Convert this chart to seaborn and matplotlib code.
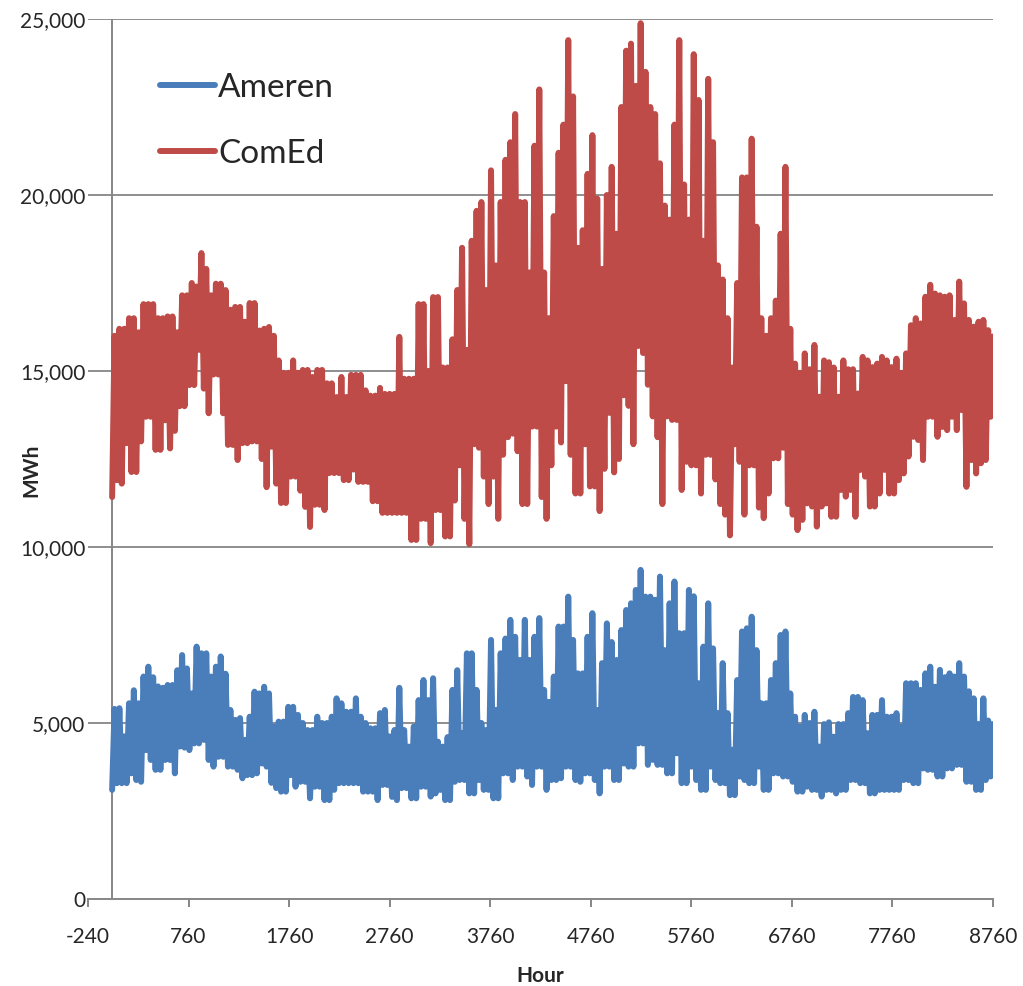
import matplotlib
matplotlib.use("Agg")
import matplotlib.pyplot as plt
import matplotlib.ticker as mticker
import numpy as np
import pandas as pd
import seaborn as sns

# envelope: one trough and one peak per 48 hours
comed_lo = [11420, 11900, 11800, 12950, 12130, 12130, 13000, 13700, 13700, 12760,
            12760, 13600, 12800, 13300, 14000, 14000, 14600, 14600, 15600, 14500,
            13800, 14900, 14900, 13800, 12900, 12900, 12470, 12950, 12950, 13000,
            13000, 12500, 11700, 12850, 11800, 11250, 11250, 12000, 12000, 11600,
            11140, 10570, 11200, 11200, 11050, 12100, 12100, 12100, 11900, 11900,
            12200, 11850, 11850, 11850, 11300, 11300, 10970, 10970, 10970, 10970,
            10970, 10970, 10200, 10200, 10800, 10800, 10110, 11050, 11050, 10300,
            10300, 11320, 12320, 10800, 10080, 12920, 12820, 12000, 11220, 12000,
            10800, 12620, 13120, 13220, 12720, 11220, 11220, 13420, 13420, 11420,
            10800, 12320, 13420, 12970, 14710, 12620, 11520, 11520, 12920, 11720,
            11720, 11020, 12220, 13810, 12120, 12500, 14310, 14010, 12920, 15710,
            15510, 14610, 13710, 13120, 11220, 13710, 13610, 13610, 11620, 12420,
            12320, 12320, 11520, 12620, 12620, 11920, 11220, 10920, 10330, 12920,
            12420, 10920, 12320, 12320, 11120, 10820, 11520, 12520, 12520, 12820,
            11220, 10920, 10480, 10770, 11240, 11150, 10580, 11150, 11240, 10860,
            10860, 11620, 11430, 11620, 10860, 12190, 12000, 11150, 11150, 11520,
            12190, 11520, 11520, 11900, 12090, 12570, 13130, 13040, 12470, 13700,
            13700, 13130, 13410, 13320, 13700, 13320, 13890, 11710, 12470, 12090,
            12380, 12470, 13700]
comed_hi = [16000, 16200, 16200, 16500, 16500, 16100, 16900, 16900, 16900, 16500,
            16500, 16550, 16550, 16100, 17150, 17150, 17500, 17400, 18350, 17900,
            17150, 17480, 17480, 17300, 16740, 16820, 16820, 16400, 16930, 16930,
            16150, 16200, 16250, 16000, 15300, 14950, 14950, 15300, 14950, 15030,
            15030, 14830, 15030, 15030, 14650, 14650, 14260, 14830, 14260, 14890,
            14890, 14890, 14450, 14300, 14300, 14520, 14350, 14350, 14350, 15970,
            14780, 14780, 14780, 16900, 16900, 15000, 17100, 17100, 15100, 15100,
            15900, 17300, 18500, 15600, 18700, 19550, 19800, 17300, 20700, 18000,
            19800, 21000, 21500, 22300, 19800, 19800, 17800, 21400, 23000, 17800,
            16500, 19400, 21200, 22000, 24400, 22800, 18500, 19000, 20600, 21700,
            19900, 17900, 20000, 20800, 18900, 22500, 24100, 24300, 23100, 24880,
            23500, 22500, 22300, 20900, 19700, 19300, 22000, 24400, 20300, 19300,
            24000, 22700, 18700, 23300, 21500, 18000, 17600, 16500, 15100, 17500,
            20500, 20500, 21600, 19100, 16500, 16000, 16500, 17000, 18900, 20800,
            16200, 15210, 14950, 15500, 15050, 15740, 14270, 15300, 15250, 15100,
            14270, 15300, 15050, 15050, 14360, 15400, 15300, 15110, 15210, 15400,
            15300, 15110, 15350, 14950, 15500, 16300, 16500, 16350, 17110, 17450,
            17200, 17150, 17110, 17150, 16450, 17540, 16920, 16450, 16260, 16400,
            16450, 16160, 15980]
ameren_lo = [3100, 3290, 3290, 3290, 3570, 3380, 3330, 4230, 3950, 3670,
             3670, 3950, 3950, 3570, 4330, 4300, 4230, 4420, 4420, 4520,
             3950, 3760, 4040, 4040, 3760, 3760, 3670, 3430, 3520, 3520,
             3570, 3850, 3760, 3300, 3150, 3050, 3050, 3520, 3190, 3330,
             3330, 2860, 3190, 3190, 2810, 2810, 3100, 3290, 3290, 3290,
             3290, 3290, 3050, 3050, 3050, 2810, 3240, 3240, 2900, 2810,
             3150, 3150, 2860, 2860, 3190, 3190, 2910, 3000, 3100, 2810,
             2810, 3330, 3380, 3380, 3000, 3000, 3380, 3100, 3100, 2860,
             2860, 3570, 3570, 3380, 3760, 3760, 3480, 3240, 3760, 3760,
             3100, 3380, 3380, 3430, 3760, 3760, 3380, 3330, 3570, 3570,
             3380, 3000, 3760, 3760, 3380, 3380, 3850, 3760, 3760, 4420,
             4420, 3810, 3950, 3810, 3810, 3570, 3570, 4140, 3290, 3290,
             3760, 3380, 3100, 3100, 3760, 3380, 3290, 3290, 2950, 2950,
             3480, 3380, 3290, 3290, 3760, 3100, 3100, 3570, 3570, 3480,
             3480, 3330, 3050, 3050, 3190, 3100, 3100, 2910, 3100, 3100,
             3000, 3100, 3100, 3380, 3380, 3290, 3290, 3000, 3000, 3100,
             3100, 3100, 3100, 3100, 3380, 3380, 3290, 3290, 3710, 3670,
             3670, 3480, 3480, 3710, 3710, 3810, 3810, 3330, 3330, 3100,
             3100, 3380, 3480]
ameren_hi = [5400, 5420, 4620, 5560, 5930, 5560, 6320, 6600, 6300, 6040,
             6000, 6080, 6080, 6500, 6930, 6550, 5840, 7170, 6980, 6980,
             6320, 6600, 6890, 6400, 5370, 5090, 5140, 4520, 5180, 5890,
             5840, 6030, 5840, 4900, 5040, 5040, 5460, 5460, 5230, 5000,
             4800, 4800, 5180, 5000, 5000, 5180, 5700, 5560, 5320, 5320,
             5700, 5180, 5000, 4850, 4850, 5280, 5370, 4620, 4800, 6000,
             4800, 4330, 4900, 5650, 6220, 5650, 6270, 4470, 4330, 4600,
             5940, 6500, 4710, 6980, 6980, 5940, 5000, 4800, 7360, 5370,
             6980, 7400, 7930, 7450, 6790, 7930, 6790, 7450, 7980, 5940,
             5600, 6320, 7740, 7740, 8590, 7360, 6410, 6410, 7450, 8120,
             5370, 6700, 7830, 7300, 6790, 7640, 8210, 8400, 8780, 9350,
             8590, 8590, 8500, 9160, 7070, 8400, 9020, 7550, 7550, 8780,
             8600, 6130, 7170, 8400, 7120, 5280, 6700, 5280, 4240, 6220,
             7600, 7690, 8020, 7070, 5560, 5560, 6220, 6700, 7500, 7600,
             5840, 5180, 4900, 5230, 5000, 5320, 4330, 4970, 5020, 4610,
             4970, 4970, 5280, 5740, 5740, 5650, 4710, 5230, 5230, 5650,
             5180, 5180, 5280, 4900, 6130, 6130, 6130, 5940, 6410, 6600,
             6030, 6510, 6300, 6410, 6320, 6700, 6320, 5900, 5700, 4970,
             5700, 5070, 4970]

hours = np.arange(0, 8761, 24)
xticks = np.arange(-240, 8761, 1000)
yticks = [0, 5000, 10000, 15000, 20000, 25000]
colors = {"Ameren": "#4A7EBB", "ComEd": "#BE4B48"}


def zigzag(lo, hi):
    vals = np.empty(len(lo) + len(hi))
    vals[0::2] = lo
    vals[1::2] = hi
    return vals


df = pd.concat([
    pd.DataFrame({"Hour": hours, "MWh": zigzag(ameren_lo, ameren_hi), "Utility": "Ameren"}),
    pd.DataFrame({"Hour": hours, "MWh": zigzag(comed_lo, comed_hi), "Utility": "ComEd"}),
])

sns.set_style("white")
plt.rcParams["font.family"] = ["Lato", "DejaVu Sans"]
plt.rcParams["axes.unicode_minus"] = False

fig = plt.figure(figsize=(10.23, 9.86), dpi=100)
ax = fig.add_axes([88 / 1023, 87 / 986, 905 / 1023, 880 / 986])

grey = "#868686"
for y in yticks[1:]:
    ax.axhline(y, color=grey, lw=1.3, zorder=0)
ax.axvline(0, color=grey, lw=1.4, zorder=0.5)

sns.lineplot(data=df, x="Hour", y="MWh", hue="Utility", palette=colors,
             estimator=None, sort=False, linewidth=4.3, ax=ax)
for line in ax.get_lines():
    line.set_solid_joinstyle("round")
    line.set_solid_capstyle("round")

ax.set_xlim(-240, 8760)
ax.set_ylim(0, 25000)
ax.set_xticks(xticks)
ax.set_yticks(yticks)
ax.yaxis.set_major_formatter(mticker.StrMethodFormatter("{x:,.0f}"))

for side in ["top", "right", "left"]:
    ax.spines[side].set_visible(False)
ax.spines["bottom"].set_color(grey)
ax.spines["bottom"].set_linewidth(1.4)
ax.tick_params(axis="x", length=6, width=1.4, color=grey, pad=14, labelsize=15,
               direction="out", bottom=True)
ax.tick_params(axis="y", length=0, pad=2, labelsize=15)

ax.set_xlabel("Hour", fontsize=15, fontweight="bold")
ax.set_ylabel("MWh", fontsize=15, fontweight="bold")
ax.xaxis.set_label_coords(0.5, -0.076)
ax.yaxis.set_label_coords(-0.052, 0.4875)

handles, labels = ax.get_legend_handles_labels()
ax.legend(handles, labels, loc="upper left", bbox_to_anchor=(160 / 1023, 1 - 73 / 986),
          bbox_transform=fig.transFigure, frameon=False, fontsize=24,
          handlelength=1.65, handletextpad=0.1, labelspacing=1.08,
          borderpad=0, borderaxespad=0)

fig.savefig("out.png", dpi=100)
